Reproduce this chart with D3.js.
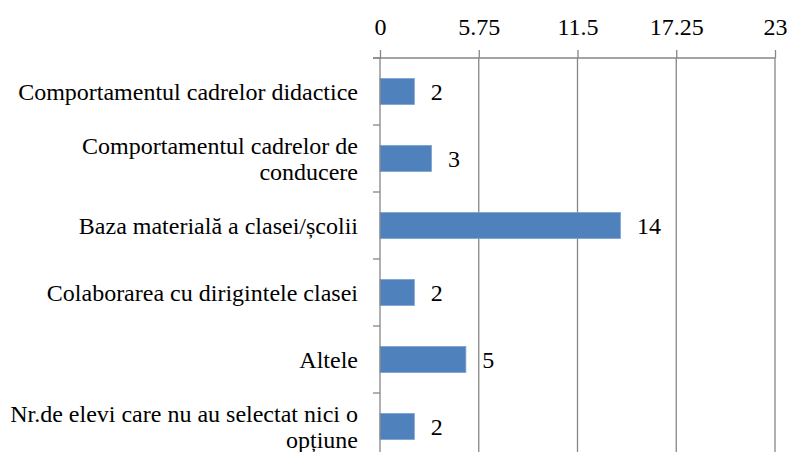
<!DOCTYPE html>
<html>
<head>
<meta charset="utf-8">
<script src="https://cdn.jsdelivr.net/npm/d3@7"></script>
</head>
<body style="margin:0; background:#fff">
<svg id="chart" width="790" height="452" style="display:block"></svg>
<script>
// Motive selectate de elevi (număr de răspunsuri)
const categories = [
  "Comportamentul cadrelor didactice",
  "Comportamentul cadrelor de conducere",
  "Baza materială a clasei/școlii",
  "Colaborarea cu dirigintele clasei",
  "Altele",
  "Nr.de elevi care nu au selectat nici o opțiune"
];
const values = [2, 3, 14, 2, 5, 2];
const tickValues = [0, 5.75, 11.5, 17.25, 23];
const tickLabels = ["0", "5.75", "11.5", "17.25", "23"];

const FONT = "Liberation Serif";
const fontSize = 24;
const svg = d3.select("#chart");
const plot = { left: 380, right: 775, top: 58, bottom: 460 };

const x = d3.scaleLinear().domain([0, 23]).range([plot.left, plot.right]);
const y = d3.scaleBand().domain(categories).range([plot.top, plot.bottom])
  .paddingInner(0.61).paddingOuter(0.305);
const step = y.step();

function serif(sel) {
  return sel.attr("font-family", FONT).attr("font-size", fontSize)
    .style("font-family", "'Liberation Serif', 'Times New Roman', serif")
    .style("font-size", fontSize + "px").attr("fill", "#000");
}

// vertical gridlines
svg.append("g").selectAll("line").data(tickValues.slice(1)).join("line")
  .attr("x1", d => x(d)).attr("x2", d => x(d))
  .attr("y1", plot.top).attr("y2", plot.bottom)
  .attr("stroke", "#868686").attr("stroke-width", 1.3);

// value axis on top
const xAxis = d3.axisTop(x).tickValues(tickValues)
  .tickFormat((d, i) => tickLabels[i]).tickSize(8).tickPadding(15);
const gx = svg.append("g").attr("transform", `translate(0,${plot.top})`).call(xAxis);
gx.attr("font-family", null).attr("font-size", null);
gx.select(".domain").attr("stroke", "#868686").attr("stroke-width", 1.3)
  .attr("d", `M${plot.left - 7},0H${plot.right}`);
gx.selectAll(".tick line").attr("stroke", "#868686").attr("stroke-width", 1.3);
serif(gx.selectAll(".tick text"));

// bars
svg.append("g").selectAll("rect").data(values).join("rect")
  .attr("x", x(0))
  .attr("y", (d, i) => y(categories[i]))
  .attr("width", d => x(d) - x(0))
  .attr("height", y.bandwidth())
  .attr("fill", "#4F81BD")
  .attr("stroke", "#7FA3D0").attr("stroke-width", 0.8);

// category axis
svg.append("line")
  .attr("x1", plot.left).attr("x2", plot.left)
  .attr("y1", plot.top).attr("y2", plot.bottom)
  .attr("stroke", "#868686").attr("stroke-width", 1.3);
svg.append("g").selectAll("line").data(d3.range(categories.length + 1)).join("line")
  .attr("x1", plot.left - 7).attr("x2", plot.left)
  .attr("y1", i => plot.top + i * step).attr("y2", i => plot.top + i * step)
  .attr("stroke", "#868686").attr("stroke-width", 1.3);

// category labels, wrapped to a fixed width
const maxWidth = 362;
const lineH = 26.5;
const labels = svg.append("g");
categories.forEach(cat => {
  const cy = y(cat) + y.bandwidth() / 2;
  const t = serif(labels.append("text")).attr("text-anchor", "end");
  const words = cat.split(" ");
  const lines = [];
  let cur = [];
  const probe = t.append("tspan");
  words.forEach(w => {
    const trial = cur.concat(w).join(" ");
    probe.text(trial);
    if (probe.node().getComputedTextLength() > maxWidth && cur.length) {
      lines.push(cur.join(" "));
      cur = [w];
    } else {
      cur.push(w);
    }
  });
  lines.push(cur.join(" "));
  probe.remove();
  const base = cy + 8.5 - (lines.length - 1) * lineH / 2;
  lines.forEach((ln, k) => {
    t.append("tspan").attr("x", 358).attr("y", base + k * lineH).text(ln);
  });
});

// value labels
serif(svg.append("g").selectAll("text").data(values).join("text"))
  .attr("x", d => x(d) + 16.5)
  .attr("y", (d, i) => y(categories[i]) + y.bandwidth() / 2 + 8.5)
  .text(d => d);
</script>
</body>
</html>
